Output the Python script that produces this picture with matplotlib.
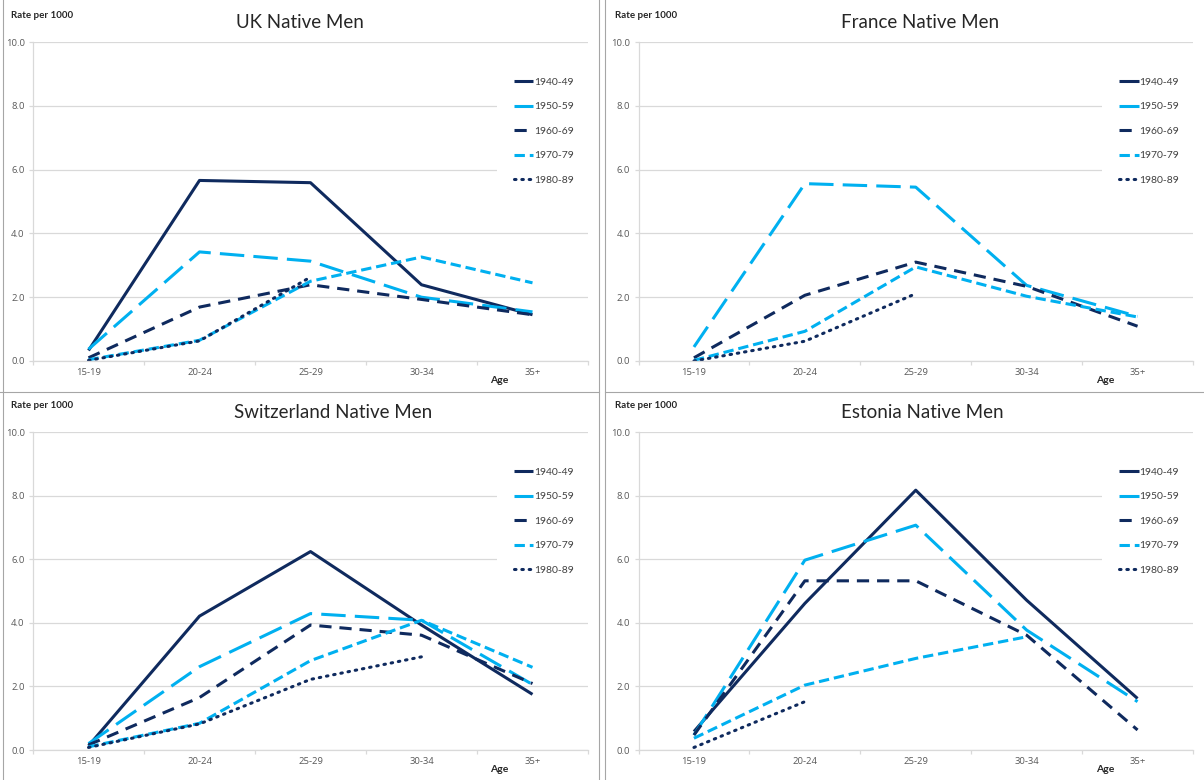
import numpy as np
import matplotlib
matplotlib.use("Agg")
import matplotlib.pyplot as plt
from matplotlib.lines import Line2D

plt.rcParams["font.family"] = ["Lato", "DejaVu Sans"]

NA = np.nan

# ─── Data: first-birth rates per 1000, native men, by age group and cohort ───
AGE_GROUPS = ["15-19", "20-24", "25-29", "30-34", "35+"]
COHORTS = ["1940-49", "1950-59", "1960-69", "1970-79", "1980-89"]

uk_1940 = [0.33, 5.66, 5.59, 2.39, 1.45]
uk_1950 = [0.37, 3.42, 3.13, 2.00, 1.54]
uk_1960 = [0.10, 1.69, 2.39, 1.93, 1.45]
uk_1970 = [0.04, 0.65, 2.50, 3.26, 2.45]
uk_1980 = [0.02, 0.63, 2.63, NA, NA]

fr_1940 = [NA, NA, NA, NA, NA]
fr_1950 = [0.44, 5.56, 5.45, 2.37, 1.40]
fr_1960 = [0.10, 2.06, 3.10, 2.34, 1.09]
fr_1970 = [0.02, 0.93, 2.95, 2.03, 1.38]
fr_1980 = [0.00, 0.62, 2.11, NA, NA]

ch_1940 = [0.13, 4.21, 6.24, 3.93, 1.75]
ch_1950 = [0.20, 2.62, 4.29, 4.08, 2.06]
ch_1960 = [0.16, 1.65, 3.93, 3.61, 2.09]
ch_1970 = [0.10, 0.84, 2.81, 4.08, 2.60]
ch_1980 = [0.08, 0.82, 2.22, 2.93, NA]

ee_1940 = [0.58, 4.61, 8.17, 4.71, 1.62]
ee_1950 = [0.47, 5.97, 7.07, 3.77, 1.52]
ee_1960 = [0.47, 5.32, 5.32, 3.61, 0.63]
ee_1970 = [0.37, 2.04, 2.88, 3.56, NA]
ee_1980 = [0.08, 1.52, NA, NA, NA]

PANELS = [
    ("UK Native Men", [uk_1940, uk_1950, uk_1960, uk_1970, uk_1980]),
    ("France Native Men", [fr_1940, fr_1950, fr_1960, fr_1970, fr_1980]),
    ("Switzerland Native Men", [ch_1940, ch_1950, ch_1960, ch_1970, ch_1980]),
    ("Estonia Native Men", [ee_1940, ee_1950, ee_1960, ee_1970, ee_1980]),
]

# ─── Styles ──────────────────────────────────────────────────────────────────
NAVY = "#0F2A5E"
SKY = "#00B0F0"
LW = 2.2
STYLES = [
    dict(color=NAVY, linestyle="-"),
    dict(color=SKY, linestyle=(0, (8, 3))),
    dict(color=NAVY, linestyle=(0, (4, 2.6))),
    dict(color=SKY, linestyle=(0, (3.4, 1.6))),
    dict(color=NAVY, linestyle=(0, (0.5, 1.9)), dash_capstyle="round"),
]
GRID = "#D9D9D9"
TICK_TXT = "#595959"
BORDER = "#A6A6A6"
TICK_FONT = ["Open Sans", "DejaVu Sans"]

W, H = 1204, 780
fig = plt.figure(figsize=(W / 100, H / 100), dpi=100)


def px_rect(x0, x1, ytop, ybot):
    return [x0 / W, 1 - ybot / H, (x1 - x0) / W, (ybot - ytop) / H]


# axes boxes in pixel coordinates (left, right, top of 10.0, bottom at 0.0)
boxes = [
    (33, 588, 42, 361),
    (638.5, 1193, 42, 361),
    (33, 588, 432, 750),
    (638.5, 1193, 432, 750),
]
title_xy = [(300, 23), (920, 23), (333, 413), (922, 413)]
ylab_xy = [(11, 15), (615, 15), (11, 405), (615, 405)]
age_xy = [(499, 380), (1105, 380), (499, 769), (1105, 769)]

x = np.arange(len(AGE_GROUPS))

for (title, series), box, txy, yxy, axy in zip(PANELS, boxes, title_xy, ylab_xy, age_xy):
    ax = fig.add_axes(px_rect(*box))
    for vals, lab, st in zip(series, COHORTS, STYLES):
        ax.plot(x, vals, lw=LW, label=lab, solid_capstyle="butt", **st)

    ax.set_xlim(-0.5, len(AGE_GROUPS) - 0.5)
    ax.set_ylim(0, 10)
    yt = np.arange(0, 10.1, 2)
    ax.set_yticks(yt)
    ax.set_yticklabels([f"{v:.1f}" for v in yt], family=TICK_FONT)
    ax.set_xticks(x)
    ax.set_xticklabels(AGE_GROUPS, family=TICK_FONT)
    ax.set_xticks(np.arange(-0.5, len(AGE_GROUPS)), minor=True)
    ax.tick_params(axis="x", which="major", length=0, pad=5,
                   labelsize=6.8, labelcolor=TICK_TXT)
    ax.tick_params(axis="x", which="minor", length=3, color=GRID, width=0.9)
    ax.tick_params(axis="y", length=3, color=GRID, width=0.9, pad=3,
                   labelsize=6.8, labelcolor=TICK_TXT)
    ax.grid(axis="y", color=GRID, lw=0.9)
    ax.set_axisbelow(True)
    for side in ("top", "right"):
        ax.spines[side].set_visible(False)
    for side in ("left", "bottom"):
        ax.spines[side].set_color(GRID)
        ax.spines[side].set_linewidth(0.9)

    leg = ax.legend(loc="upper left", bbox_to_anchor=(0.836, 0.94),
                    fontsize=7.5, frameon=True, facecolor="white",
                    edgecolor="none", framealpha=1, fancybox=False,
                    handlelength=1.9, handletextpad=0.1, labelspacing=1.45,
                    borderpad=1.6, borderaxespad=0)
    for t in leg.get_texts():
        t.set_color("#404040")

    fig.text(txy[0] / W, 1 - txy[1] / H, title, ha="center", va="center",
             fontsize=13.5, color="#262626")
    fig.text(yxy[0] / W, 1 - yxy[1] / H, "Rate per 1000", ha="left",
             va="center", fontsize=7, fontweight="bold", color="#262626")
    fig.text(axy[0] / W, 1 - axy[1] / H, "Age", ha="center", va="center",
             fontsize=7.5, fontweight="bold", color="#262626")

# panel borders
for xs, ys in [([2.7, 2.7], [0, H]), ([599, 599], [0, H]), ([605, 605], [0, H]),
               ([0, 599], [392, 392]), ([605, W], [392, 392])]:
    fig.add_artist(Line2D([v / W for v in xs], [1 - v / H for v in ys],
                          color=BORDER, lw=0.8, transform=fig.transFigure))

fig.savefig("out.png", dpi=100, facecolor="white")
